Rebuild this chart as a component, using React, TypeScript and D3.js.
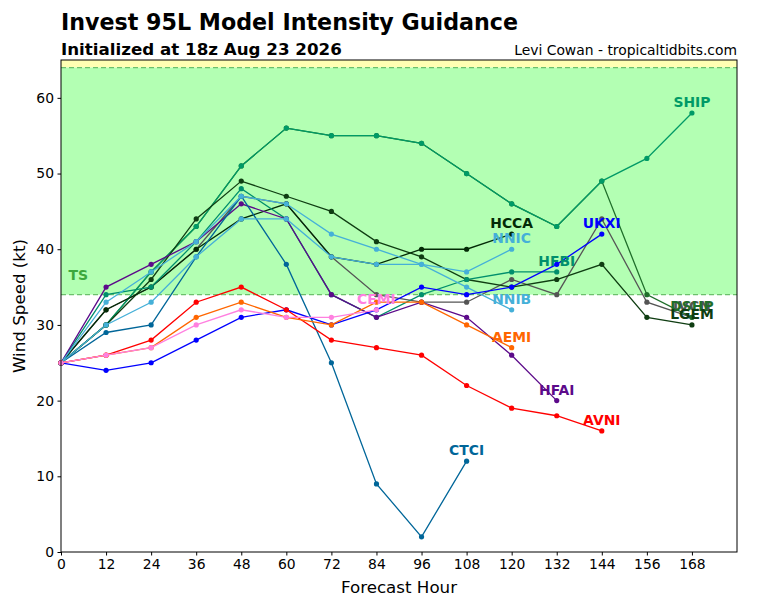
import { useEffect, useRef } from 'react';
import * as d3 from 'd3';

// forecast hours shared by every model track
const HOURS = [0, 12, 24, 36, 48, 60, 72, 84, 96, 108, 120, 132, 144, 156, 168];
const X_TICKS = [0, 12, 24, 36, 48, 60, 72, 84, 96, 108, 120, 132, 144, 156, 168];
const Y_TICKS = [0, 10, 20, 30, 40, 50, 60];

// wind speed (kt) per model, starting at hour 0
const IVCN = [25, 32, 35, 40, 47, 46, 39, 34, 33, 33, 36, 34, 44, 33, 31];
const SHIP = [25, 30, 37, 43, 51, 56, 55, 55, 54, 50, 46, 43, 49, 52, 58];
const DSHP = [25, 30, 37, 43, 51, 56, 55, 55, 54, 50, 46, 43, 49, 34, 31];
const LGEM = [25, 30, 36, 44, 49, 47, 45, 41, 39, 36, 35, 36, 38, 31, 30];
const HCCA = [25, 32, 35, 40, 44, 46, 39, 38, 40, 40, 42];
const NNIC = [25, 33, 37, 41, 47, 46, 42, 40, 38, 37, 40];
const NNIB = [25, 30, 33, 39, 44, 44, 39, 38, 38, 35, 32];
const HFBI = [25, 34, 35, 41, 48, 44, 34, 31, 34, 36, 37, 37];
const HFAI = [25, 35, 38, 41, 46, 44, 34, 31, 33, 31, 26, 20];
const CTCI = [25, 29, 30, 39, 47, 38, 25, 9, 2, 12];
const UKXI = [25, 24, 25, 28, 31, 32, 30, 32, 35, 34, 35, 38, 42];
const AVNI = [25, 26, 28, 33, 35, 32, 28, 27, 26, 22, 19, 18, 16];
const AEMI = [25, 26, 27, 31, 33, 31, 30, 33, 33, 30, 27];
const CEMI = [25, 26, 27, 30, 32, 31, 31, 32];

const MODEL_NAMES = ['IVCN', 'DSHP', 'SHIP', 'LGEM', 'HCCA', 'HFBI', 'HFAI', 'CTCI', 'NNIC', 'NNIB', 'UKXI', 'AVNI', 'AEMI', 'CEMI'];
const MODEL_VALUES = [IVCN, DSHP, SHIP, LGEM, HCCA, HFBI, HFAI, CTCI, NNIC, NNIB, UKXI, AVNI, AEMI, CEMI];

const COLORS: Record<string, string> = {
  IVCN: '#555555',
  SHIP: '#009a66',
  DSHP: '#1f6e2a',
  LGEM: '#0f3d12',
  HCCA: '#032a06',
  HFBI: '#008f6c',
  HFAI: '#5c0a8a',
  CTCI: '#006699',
  NNIC: '#45b0d8',
  NNIB: '#45b0d8',
  UKXI: '#0000ff',
  AVNI: '#ff0000',
  AEMI: '#ff6600',
  CEMI: '#ff80e0',
};

const W = 768;
const H = 600;
const PLOT = { left: 61, right: 737, top: 60, bottom: 552 };
const FONT = '"DejaVu Sans", sans-serif';

export default function App() {
  const svgRef = useRef<SVGSVGElement>(null);

  useEffect(() => {
    if (!svgRef.current) return;
    const svg = d3.select(svgRef.current);
    svg.selectAll('*').remove();

    const x = d3.scaleLinear().domain([0, 180]).range([PLOT.left, PLOT.right]);
    const y = d3.scaleLinear().domain([0, 65]).range([PLOT.bottom, PLOT.top]);

    svg.append('rect').attr('width', W).attr('height', H).attr('fill', '#ffffff');

    // intensity bands
    svg
      .append('rect')
      .attr('x', PLOT.left)
      .attr('width', PLOT.right - PLOT.left)
      .attr('y', y(65))
      .attr('height', y(64) - y(65))
      .attr('fill', '#ffffb3');
    svg
      .append('rect')
      .attr('x', PLOT.left)
      .attr('width', PLOT.right - PLOT.left)
      .attr('y', y(64))
      .attr('height', y(34) - y(64))
      .attr('fill', '#b3ffb3');
    [34, 64].forEach(v => {
      svg
        .append('line')
        .attr('x1', PLOT.left)
        .attr('x2', PLOT.right)
        .attr('y1', y(v))
        .attr('y2', y(v))
        .attr('stroke', '#6cc06c')
        .attr('stroke-width', 1.2)
        .attr('stroke-dasharray', '5,3');
    });
    svg
      .append('text')
      .attr('x', x(2))
      .attr('y', y(36))
      .attr('font-family', FONT)
      .attr('font-size', '14px')
      .attr('font-weight', 'bold')
      .attr('fill', '#3da83d')
      .text('TS');

    // model tracks
    const line = d3
      .line<number>()
      .x((_d: number, i: number) => x(HOURS[i]))
      .y((d: number) => y(d));

    MODEL_NAMES.forEach((name, k) => {
      const vals = MODEL_VALUES[k];
      const g = svg.append('g');
      g.append('path')
        .attr('d', line(vals))
        .attr('fill', 'none')
        .attr('stroke', COLORS[name])
        .attr('stroke-width', 1.3);
      g.selectAll('circle')
        .data(vals)
        .enter()
        .append('circle')
        .attr('cx', (_d: number, i: number) => x(HOURS[i]))
        .attr('cy', (d: number) => y(d))
        .attr('r', 2.6)
        .attr('fill', COLORS[name]);
    });

    // model labels at the end of each track (the 168 h labels overlap, as in the source)
    MODEL_NAMES.forEach((name, k) => {
      const vals = MODEL_VALUES[k];
      const last = vals.length - 1;
      svg
        .append('text')
        .attr('x', x(HOURS[last]))
        .attr('y', y(vals[last]) - 6)
        .attr('text-anchor', 'middle')
        .attr('font-family', FONT)
        .attr('font-size', '13.9px')
        .attr('font-weight', 'bold')
        .attr('fill', COLORS[name])
        .text(name);
    });

    // frame
    svg
      .append('rect')
      .attr('x', PLOT.left)
      .attr('y', PLOT.top)
      .attr('width', PLOT.right - PLOT.left)
      .attr('height', PLOT.bottom - PLOT.top)
      .attr('fill', 'none')
      .attr('stroke', '#000000')
      .attr('stroke-width', 1);

    // axes
    const xAxis = svg
      .append('g')
      .attr('transform', `translate(0, ${PLOT.bottom})`)
      .call(d3.axisBottom(x).tickValues(X_TICKS).tickSize(3.5).tickPadding(3.5));
    xAxis.select('.domain').remove();
    xAxis.selectAll('text').attr('font-family', FONT).attr('font-size', '13.9px').attr('fill', '#000');

    const yAxis = svg
      .append('g')
      .attr('transform', `translate(${PLOT.left}, 0)`)
      .call(d3.axisLeft(y).tickValues(Y_TICKS).tickSize(3.5).tickPadding(3.5));
    yAxis.select('.domain').remove();
    yAxis.selectAll('text').attr('font-family', FONT).attr('font-size', '13.9px').attr('fill', '#000');

    svg
      .append('text')
      .attr('x', (PLOT.left + PLOT.right) / 2)
      .attr('y', 593)
      .attr('text-anchor', 'middle')
      .attr('font-family', FONT)
      .attr('font-size', '16.7px')
      .text('Forecast Hour');
    svg
      .append('text')
      .attr('transform', `translate(25, ${(PLOT.top + PLOT.bottom) / 2}) rotate(-90)`)
      .attr('text-anchor', 'middle')
      .attr('font-family', FONT)
      .attr('font-size', '16.7px')
      .text('Wind Speed (kt)');

    // titles
    svg
      .append('text')
      .attr('x', PLOT.left)
      .attr('y', 30)
      .attr('font-family', FONT)
      .attr('font-size', '22.2px')
      .attr('font-weight', 'bold')
      .text('Invest 95L Model Intensity Guidance');
    svg
      .append('text')
      .attr('x', PLOT.left)
      .attr('y', 55)
      .attr('font-family', FONT)
      .attr('font-size', '16.7px')
      .attr('font-weight', 'bold')
      .text('Initialized at 18z Aug 23 2026');
    svg
      .append('text')
      .attr('x', PLOT.right)
      .attr('y', 55)
      .attr('text-anchor', 'end')
      .attr('font-family', FONT)
      .attr('font-size', '13.9px')
      .text('Levi Cowan - tropicaltidbits.com');
  }, []);

  return (
    <div style={{ position: 'fixed', left: 0, top: 0 }}>
      <svg ref={svgRef} width={W} height={H} style={{ display: 'block' }} />
    </div>
  );
}
